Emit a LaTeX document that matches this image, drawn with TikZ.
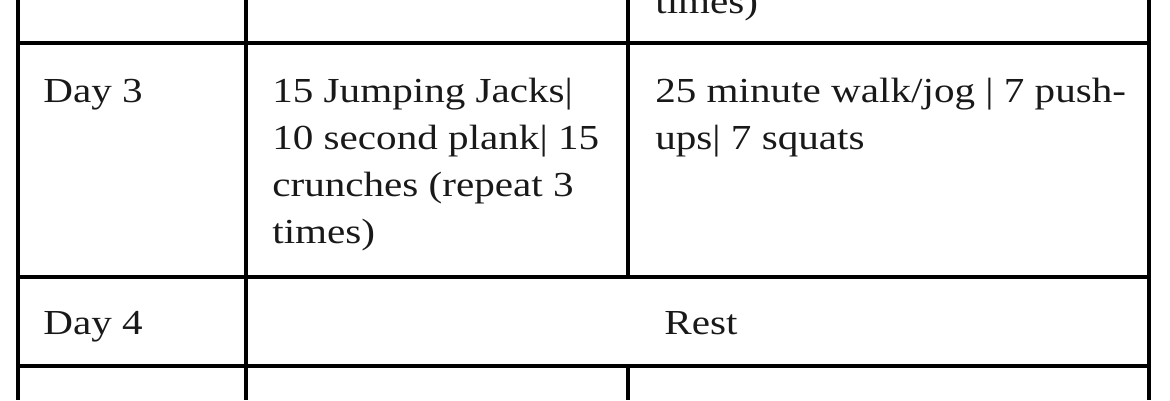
\documentclass[tikz,border=0pt]{standalone}
\usepackage{fontspec}
\setmainfont[FakeStretch=1.17]{Liberation Serif}
\usetikzlibrary{positioning}

\begin{document}
\begin{tikzpicture} [
    x=0.02cm, y=-0.02cm,
    cell/.style={anchor=base west, inner sep=0pt, align=left, font=\fontsize{20pt}{26.7pt}\selectfont, text=black!90},
    rule/.style={draw=black, line width=2pt}
]
\useasboundingbox (0,0) rectangle (1170,400);
\clip (0,0) rectangle (1170,400);

% Layer 1: grid corners
\coordinate (c0top) at (18,0);
\coordinate (c1top) at (246,0);
\coordinate (c2top) at (628,0);
\coordinate (c3top) at (1149,0);
\coordinate (c0bot) at (18,400);
\coordinate (c1bot) at (246,400);
\coordinate (c2bot) at (628,400);
\coordinate (c3bot) at (1149,400);

% Layer 2: cell texts (base = baseline of the last line)
\node[cell] (prevtail) at (655,13) {times)};
\node[cell] (day3) at (43,102) {Day 3};
\node[cell] (warmup3) at (272,243) {15 Jumping Jacks|\\10 second plank| 15\\crunches (repeat 3\\times)};
\node[cell] (cardio3) at (655,149) {25 minute walk/jog | 7 push-\\ups| 7 squats};
\node[cell] (day4) at (43,334) {Day 4};
\node[cell, anchor=base] (rest4) at (701,334) {Rest};

% Layer 3: rules
\foreach \r in {43,277,366}
    \draw[rule] (18,\r) -- (1149,\r);
\draw[rule] (c0top) -- (c0bot);
\draw[rule] (c1top) -- (c1bot);
\draw[rule] (c3top) -- (c3bot);
\draw[rule] (c2top) -- (628,277);
\draw[rule] (628,366) -- (c2bot);

\end{tikzpicture}
\end{document}
